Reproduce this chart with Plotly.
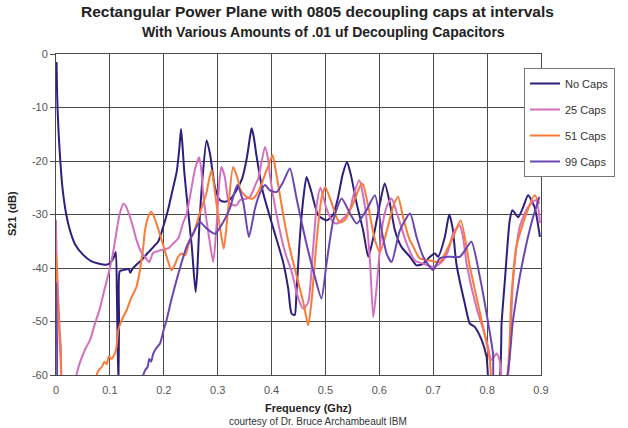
import plotly.graph_objects as go

# ---------------- data ----------------
series_names = ["No Caps", "25 Caps", "51 Caps", "99 Caps"]

no_caps_freq = [0.001, 0.002, 0.003, 0.005, 0.008, 0.012, 0.019, 0.026, 0.035, 0.05, 0.065, 0.08, 0.092, 0.1,
                0.104, 0.108, 0.111, 0.113, 0.1157, 0.117, 0.1184, 0.125, 0.135, 0.138, 0.141, 0.15, 0.162, 0.17,
                0.176, 0.185, 0.19, 0.199, 0.207, 0.215, 0.224, 0.229, 0.232, 0.235, 0.238, 0.245, 0.252, 0.259,
                0.262, 0.266, 0.272, 0.2795, 0.2857, 0.295, 0.304, 0.313, 0.323, 0.333, 0.345, 0.354, 0.36, 0.363,
                0.367, 0.372, 0.384, 0.403, 0.4215, 0.431, 0.437, 0.443, 0.446, 0.452, 0.459, 0.465, 0.474, 0.4865,
                0.502, 0.514, 0.523, 0.532, 0.54, 0.547, 0.558, 0.57, 0.5795, 0.589, 0.601, 0.61, 0.6197, 0.629,
                0.6413, 0.657, 0.669, 0.6815, 0.694, 0.703, 0.709, 0.7216, 0.7297, 0.736, 0.743, 0.7587, 0.768,
                0.777, 0.79, 0.799, 0.805, 0.8206, 0.827, 0.833, 0.842, 0.847, 0.8575, 0.867, 0.876, 0.888, 0.898]
no_caps_s21 = [-1.5, -7, -10.5, -15, -20, -25, -30, -33, -35.5, -37.5, -38.7, -39.2, -39.4, -39.1,
               -38.6, -37.8, -37, -45, -62, -50, -40.6, -40.4, -40.2, -40.9, -40.3, -39.3, -38.2, -37.2,
               -36.6, -35.6, -35, -32.3, -29.5, -26, -22, -17.5, -14, -17.5, -22, -29.2, -36, -44.5,
               -41, -32, -23, -16.1, -18.6, -24.9, -27.3, -27.6, -27.2, -25.8, -23.4, -19.5, -15.5, -13.9,
               -15.5, -19, -25.8, -32.5, -38.9, -43.9, -48.5, -48.8, -45.1, -35.1, -27, -23, -25.8, -30.1,
               -31.1, -30.1, -27, -22.5, -20.2, -22.5, -28, -33, -37.9, -34.2, -28, -24.2, -28, -33,
               -36.1, -37.9, -39.5, -39.2, -37.9, -37.3, -37.9, -34.2, -30, -32.5, -39.2, -46.7, -50.4,
               -51, -53.5, -56.6, -62, -62, -50, -42.3, -31.1, -29.2, -30.5, -28.6, -26.4, -28.6, -34.2]

caps25_freq = [0.0, 0.0005, 0.001, 0.003, 0.006, 0.009, 0.0135, 0.037, 0.0382, 0.045, 0.055, 0.063, 0.072, 0.0816,
               0.09, 0.1, 0.107, 0.1126, 0.118, 0.1249, 0.13, 0.134, 0.142, 0.1495, 0.157, 0.165, 0.173, 0.18,
               0.19, 0.2, 0.21, 0.2176, 0.2267, 0.236, 0.2421, 0.2517, 0.258, 0.2657, 0.27, 0.273, 0.2857,
               0.2918, 0.2978, 0.303, 0.307, 0.3132, 0.3193, 0.3228, 0.335, 0.3414, 0.354, 0.36, 0.372, 0.3753,
               0.3878, 0.394, 0.397, 0.4094, 0.4249, 0.4373, 0.4496, 0.4589, 0.468, 0.477, 0.4845, 0.4907,
               0.502, 0.514, 0.5207, 0.536, 0.545, 0.5512, 0.5627, 0.5735, 0.5826, 0.5887, 0.595, 0.6043,
               0.6135, 0.6227, 0.635, 0.6506, 0.666, 0.6815, 0.6998, 0.712, 0.7184, 0.728, 0.737, 0.749, 0.755,
               0.762, 0.78, 0.799, 0.808, 0.8175, 0.823, 0.8295, 0.836, 0.848, 0.8605, 0.876, 0.891, 0.898]
caps25_s21 = [-31, -35, -38, -43, -50, -55, -62, -62, -60, -57.5, -55, -53.5, -50.5, -47.5,
              -44, -40, -36.5, -33, -30, -28, -28.5, -29.5, -32, -34.8, -36.8, -37.9, -38.9, -37.2,
              -36.8, -36.6, -36.2, -35.4, -34.5, -31.5, -30, -24.9, -21.5, -19.3, -22, -26.1, -35.4,
              -38.9, -32.3, -24, -21.1, -23, -27.3, -28, -28.3, -27.3, -27, -26.7, -24, -23.3,
              -17.4, -19.9, -22.7, -30.1, -37, -40.7, -45.7, -47.6, -46.4, -36.4, -27.7, -25,
              -28.9, -31.4, -31.7, -30.5, -29.2, -26.7, -23.6, -28.6, -38.6, -49.2, -43.6, -33,
              -28.6, -27, -30.5, -35.4, -38.6, -39.2, -39.8, -39.2, -38.6, -36.7, -33.5, -32, -34,
              -39.2, -47.3, -53.5, -57.2, -56, -57.2, -62, -62, -42.3, -32.3, -28.6, -27.3, -31.6]

caps51_freq = [0.0, 0.001, 0.003, 0.005, 0.007, 0.009, 0.01, 0.012, 0.074, 0.0755, 0.08, 0.085, 0.09, 0.094,
               0.098, 0.103, 0.109, 0.112, 0.1156, 0.123, 0.131, 0.14, 0.1494, 0.1557, 0.162, 0.165, 0.171,
               0.1772, 0.1865, 0.2018, 0.2143, 0.22, 0.2267, 0.233, 0.24, 0.2482, 0.2547, 0.2668, 0.2792,
               0.2826, 0.2887, 0.2978, 0.3071, 0.3114, 0.3193, 0.3286, 0.3378, 0.3414, 0.351, 0.36, 0.366,
               0.378, 0.3906, 0.394, 0.4017, 0.4094, 0.4217, 0.434, 0.4464, 0.4589, 0.468, 0.474, 0.4835,
               0.4926, 0.4998, 0.511, 0.5204, 0.5269, 0.5358, 0.5455, 0.5512, 0.5608, 0.567, 0.57, 0.5795,
               0.592, 0.601, 0.6135, 0.6254, 0.6347, 0.644, 0.6564, 0.66, 0.675, 0.6936, 0.712, 0.7277,
               0.737, 0.751, 0.768, 0.787, 0.799, 0.805, 0.811, 0.833, 0.845, 0.854, 0.873, 0.888, 0.897]
caps51_s21 = [-37, -40, -45, -50, -54, -58, -61, -62, -62, -60, -59, -58.5, -57.5, -58,
              -56.5, -57, -56, -55, -51.6, -49.5, -47.9, -45.5, -43.5, -40.4, -36, -33, -30.5,
              -29.5, -31.7, -36.7, -40.4, -39.5, -37.9, -37.3, -37.6, -34.8, -33.6, -29.8, -26,
              -24.2, -21.7, -28, -34.2, -36.4, -29.2, -21.1, -23.5, -25.2, -26.5, -27, -27,
              -25.2, -21.7, -21, -18.9, -22.7, -30.1, -36.4, -41.4, -46.4, -50.7, -46.4, -35.1,
              -27, -24.9, -27.7, -30.5, -31.5, -31.1, -29.2, -28, -25.5, -24.2, -24.4, -28.5,
              -34.8, -37, -33.2, -28.6, -26.7, -30.5, -34.8, -35.4, -38.2, -38.6, -38.9, -36.1,
              -34.2, -31.1, -39.8, -48.5, -54.1, -57.2, -62, -62, -45.4, -36.1, -29.8, -26.4, -28]

caps99_freq = [0.0, 0.001, 0.002, 0.003, 0.004, 0.16, 0.162, 0.166, 0.17, 0.173, 0.1765, 0.1805, 0.186, 0.193,
               0.2, 0.205, 0.214, 0.2236, 0.233, 0.2421, 0.2547, 0.2668, 0.2792, 0.295, 0.307, 0.3228,
               0.3364, 0.3475, 0.358, 0.3692, 0.378, 0.3878, 0.397, 0.4094, 0.4217, 0.434, 0.4464, 0.4557,
               0.466, 0.48, 0.4926, 0.502, 0.5145, 0.53, 0.5455, 0.558, 0.576, 0.5918, 0.6043, 0.6135,
               0.6227, 0.638, 0.657, 0.669, 0.6815, 0.6998, 0.712, 0.731, 0.7495, 0.76, 0.771, 0.7866,
               0.799, 0.811, 0.814, 0.833, 0.848, 0.864, 0.882, 0.897]
caps99_s21 = [-42.7, -48, -55, -62, -62, -62, -60, -59, -58.5, -57, -57.5, -56, -55, -54.1,
              -51.5, -49.8, -46, -42.3, -39, -36.1, -33.5, -31.4, -32.6, -33.6, -32, -28.8,
              -24.5, -27.7, -34.2, -28.9, -26.1, -24.5, -25.5, -25.8, -23.9, -21.4, -27, -31.4,
              -36, -41.5, -45.7, -39.2, -31.1, -27, -29.8, -31.7, -29.2, -26.4, -33, -37.3,
              -38.9, -33, -29.8, -34.2, -37.9, -40.4, -38.2, -37.9, -37.9, -36.5, -35.1, -41.7,
              -48.5, -56, -62, -62, -49.8, -39.8, -31.7, -26.7]

x_tick_vals = [0, 0.1, 0.2, 0.3, 0.4, 0.5, 0.6, 0.7, 0.8, 0.9]
x_tick_text = ["0", "0.1", "0.2", "0.3", "0.4", "0.5", "0.6", "0.7", "0.8", "0.9"]
y_tick_vals = [0, -10, -20, -30, -40, -50, -60]
y_tick_text = ["0", "-10", "-20", "-30", "-40", "-50", "-60"]

title_line1 = "Rectangular Power Plane with 0805 decoupling caps at intervals"
title_line2 = "With Various Amounts of .01 uf Decoupling Capacitors"
x_title = "Frequency (Ghz)"
y_title = "S21 (dB)"
credit = "courtesy of Dr. Bruce Archambeault IBM"

# ---------------- styling ----------------
W, H = 628, 428
L, R, T, B = 56, 87, 54, 53
PW, PH = W - L - R, H - T - B
FONT = "Liberation Sans, Arial, sans-serif"
colors = ["#2E1F7E", "#D46FC0", "#FB7B36", "#6A46B4"]
GRID = "#4a4a4a"


def px(xp):
    return (xp - L) / PW


def py(yp):
    return (H - B - yp) / PH


fig = go.Figure()
all_data = [(no_caps_freq, no_caps_s21), (caps25_freq, caps25_s21),
            (caps51_freq, caps51_s21), (caps99_freq, caps99_s21)]
for name, (fx, fy), col in zip(series_names, all_data, colors):
    fig.add_trace(go.Scatter(x=fx, y=fy, mode="lines", name=name, legendgroup=name,
                             line=dict(color=col, width=2, shape="spline", smoothing=0.6)))

fig.update_layout(
    width=W, height=H,
    margin=dict(l=L, r=R, t=T, b=B, pad=0),
    paper_bgcolor="white", plot_bgcolor="white",
    font=dict(family=FONT, size=11, color="#444"),
    showlegend=True,
    legend=dict(x=px(524), y=py(68), xanchor="left", yanchor="top",
                bgcolor="white", bordercolor="#777", borderwidth=1,
                font=dict(family=FONT, size=11, color="#333"),
                traceorder="grouped", tracegroupgap=7),
    xaxis=dict(range=[0, 0.9], tickvals=x_tick_vals, ticktext=x_tick_text,
               showgrid=True, gridcolor=GRID, gridwidth=1, zeroline=False,
               showline=True, linecolor=GRID, linewidth=1, mirror=True,
               ticks="", ticklabelstandoff=5,
               tickfont=dict(family=FONT, size=11, color="#555")),
    yaxis=dict(range=[-60, 0], tickvals=y_tick_vals, ticktext=y_tick_text,
               showgrid=True, gridcolor=GRID, gridwidth=1, zeroline=False,
               showline=True, linecolor=GRID, linewidth=1, mirror=True,
               ticks="outside", ticklen=5, tickcolor=GRID,
               tickfont=dict(family=FONT, size=11, color="#555")),
)

ann = [
    dict(text="<b>" + title_line1 + "</b>", x=px(317), y=py(12), size=15.5, color="#222"),
    dict(text="<b>" + title_line2 + "</b>", x=px(323), y=py(32), size=14, color="#222"),
    dict(text="<b>" + x_title + "</b>", x=px(308), y=py(408), size=11, color="#222"),
    dict(text=credit, x=px(318), y=py(421), size=10, color="#333"),
]
for a in ann:
    fig.add_annotation(text=a["text"], x=a["x"], y=a["y"], xref="paper", yref="paper",
                       xanchor="center", yanchor="middle", showarrow=False,
                       font=dict(family=FONT, size=a["size"], color=a["color"]))
fig.add_annotation(text="<b>" + y_title + "</b>", x=px(12), y=py(214), xref="paper", yref="paper",
                   xanchor="center", yanchor="middle", showarrow=False, textangle=-90,
                   font=dict(family=FONT, size=11, color="#222"))

fig.write_html("out.html")
